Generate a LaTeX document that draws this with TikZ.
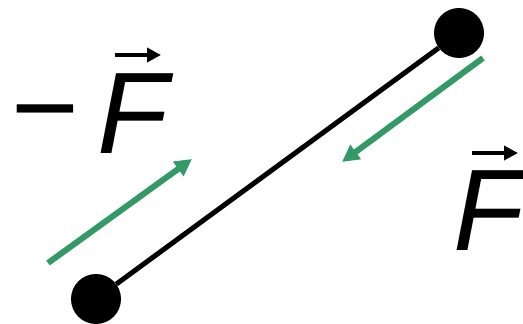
\documentclass[tikz,border=0pt]{standalone}
\usepackage{fontspec}
\setmainfont{Liberation Sans}
\usetikzlibrary{arrows.meta}
\definecolor{fgreen}{HTML}{339966}
\begin{document}
\begin{tikzpicture}[x=1pt,y=-1pt,
  ball/.style={circle,fill=black,inner sep=0pt,minimum size=50pt},
  rod/.style={line width=5pt,black},
  force/.style={line width=6pt,fgreen,-{Triangle[length=17pt,width=17pt]}},
  vecarrow/.style={line width=4pt,black,-{Triangle[length=14pt,width=14pt]}},
  lbl/.style={inner sep=0pt,font=\fontsize{116}{116}\selectfont\itshape}]
\useasboundingbox (0,0) rectangle (523,324);
\node[ball] (top) at (459,33) {};
\node[ball] (bot) at (96,299) {};
\draw[rod] (bot) -- (top);
\coordinate (g1s) at (48,263);
\coordinate (g1e) at (192,159);
\coordinate (g2s) at (483,58);
\coordinate (g2e) at (342,162);
\draw[force] (g1s) -- (g1e);
\draw[force] (g2s) -- (g2e);
\node[lbl,font=\fontsize{116}{116}\selectfont] (minus) at (45,126) {−};
\node[lbl,anchor=base west] (FL) at (97,153) {F};
\node[lbl,anchor=base west] (FR) at (453,250) {F};
\coordinate (aL1) at (115,55);
\coordinate (aL2) at (161,55);
\coordinate (aR1) at (472,153);
\coordinate (aR2) at (518,153);
\draw[vecarrow] (aL1) -- (aL2);
\draw[vecarrow] (aR1) -- (aR2);
\end{tikzpicture}
\end{document}
